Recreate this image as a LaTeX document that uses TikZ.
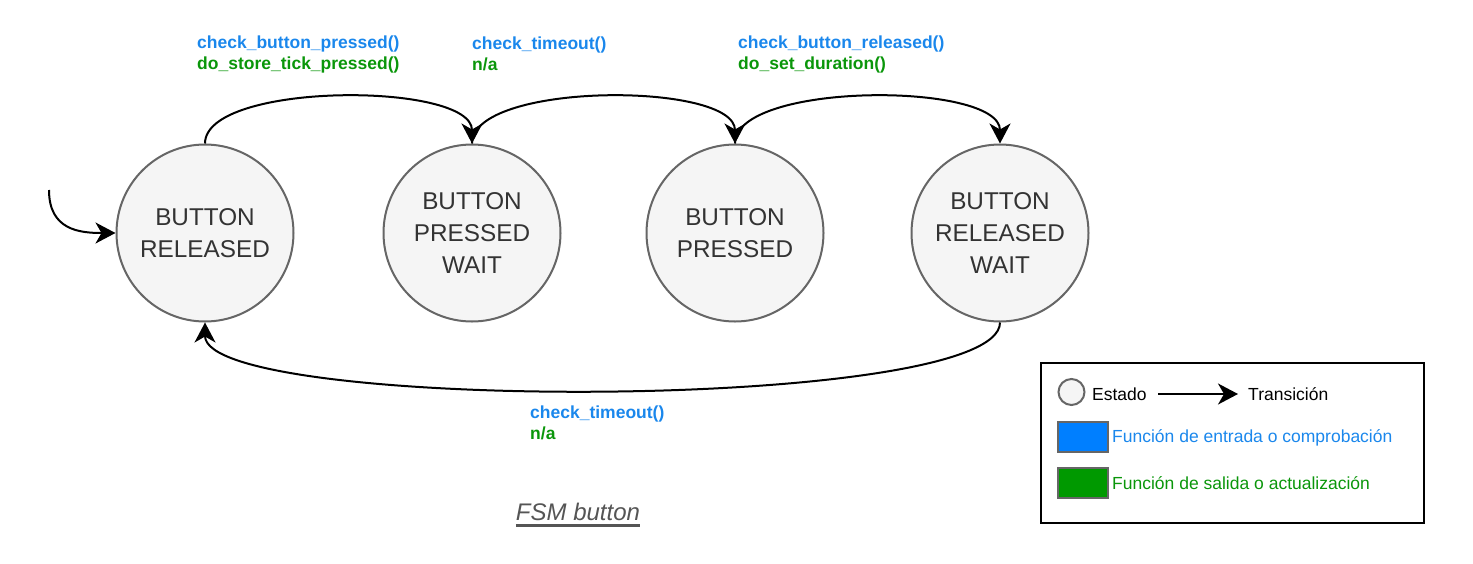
\documentclass[tikz,border=0pt]{standalone}
\usepackage{fontspec}
\setmainfont{Liberation Sans}
\usetikzlibrary{arrows.meta}
\definecolor{fsmblue}{HTML}{1A87EC}
\definecolor{fsmgreen}{HTML}{0A960A}
\definecolor{fsmstroke}{HTML}{666666}
\definecolor{fsmfill}{HTML}{F5F5F5}
\definecolor{fsmtext}{HTML}{333333}
\definecolor{fsmtitle}{HTML}{555555}
\definecolor{rectblue}{HTML}{007FFF}
\definecolor{rectgreen}{HTML}{009900}
\begin{document}
\begin{tikzpicture}[x=1pt,y=-1pt,
  state/.style={circle, draw=fsmstroke, fill=fsmfill, line width=2pt, minimum size=177pt, inner sep=0pt, align=center, text=fsmtext, font=\fontsize{24.3}{32}\selectfont},
  trans/.style={line width=2pt, -{Stealth[length=20pt,width=21pt,inset=6pt]}},
  lbl/.style={anchor=west, align=left, inner sep=0pt, font=\fontsize{17.5}{21}\selectfont\bfseries},
  leg/.style={anchor=west, inner sep=0pt, font=\fontsize{17.5}{21}\selectfont},
  swatch/.style={draw=fsmstroke, line width=2pt, minimum width=50pt, minimum height=30pt, inner sep=0pt}]
\useasboundingbox (0,0) rectangle (1473,563);
% states
\node[state] (s1) at (205,233) {BUTTON\\RELEASED};
\node[state] (s2) at (472,233) {BUTTON\\PRESSED\\WAIT};
\node[state] (s3) at (735,233) {BUTTON\\PRESSED};
\node[state] (s4) at (1000,233) {BUTTON\\RELEASED\\WAIT};
% transitions
\coordinate (init) at (49,190);
\draw[trans] (init) .. controls +(0,40) and +(-36,0) .. (s1.west);
\draw[trans] (s1.north) .. controls +(0,-62) and +(0,-62) .. (s2.north);
\draw[trans] (s2.north) .. controls +(0,-62) and +(0,-62) .. (s3.north);
\draw[trans] (s3.north) .. controls +(0,-62) and +(0,-62) .. (s4.north);
\draw[trans] (s4.south) .. controls +(0,90) and +(0,90) .. (s1.south);
% labels
\node[lbl] (l12) at (197,54) {\textcolor{fsmblue}{check\_button\_pressed()}\\\textcolor{fsmgreen}{do\_store\_tick\_pressed()}};
\node[lbl] (l23) at (472,54) {\textcolor{fsmblue}{check\_timeout()}\\\textcolor{fsmgreen}{n/a}};
\node[lbl] (l34) at (738,54) {\textcolor{fsmblue}{check\_button\_released()}\\\textcolor{fsmgreen}{do\_set\_duration()}};
\node[lbl] (l41) at (530,423) {\textcolor{fsmblue}{check\_timeout()}\\\textcolor{fsmgreen}{n/a}};
% title
\node[inner sep=0pt, text=fsmtitle, font=\fontsize{24}{28}\selectfont\itshape] (title) at (578,512) {FSM button};
\draw[fsmtitle, line width=2.5pt] ([yshift=-5pt]title.base west) -- ([yshift=-5pt]title.base east);
% legend
\node[draw=black, line width=2pt, minimum width=383pt, minimum height=160pt, inner sep=0pt] (legend) at (1232,442.5) {};
\node[circle, draw=fsmstroke, fill=fsmfill, line width=2pt, minimum size=26pt, inner sep=0pt] (legstate) at (1071.5,392) {};
\node[leg] (legestado) at (1092,394) {Estado};
\coordinate (la) at (1158,394);
\coordinate (lb) at (1238,394);
\draw[trans] (la) -- (lb);
\node[leg] (legtrans) at (1248,394) {Transición};
\node[swatch, fill=rectblue] (legblue) at (1083,437) {};
\node[leg, text=fsmblue] (legbluetext) at (1112,438) {Función de entrada o comprobación};
\node[swatch, fill=rectgreen] (leggreen) at (1083,483) {};
\node[leg, text=fsmgreen] (leggreentext) at (1112,483) {Función de salida o actualización};
\end{tikzpicture}
\end{document}
